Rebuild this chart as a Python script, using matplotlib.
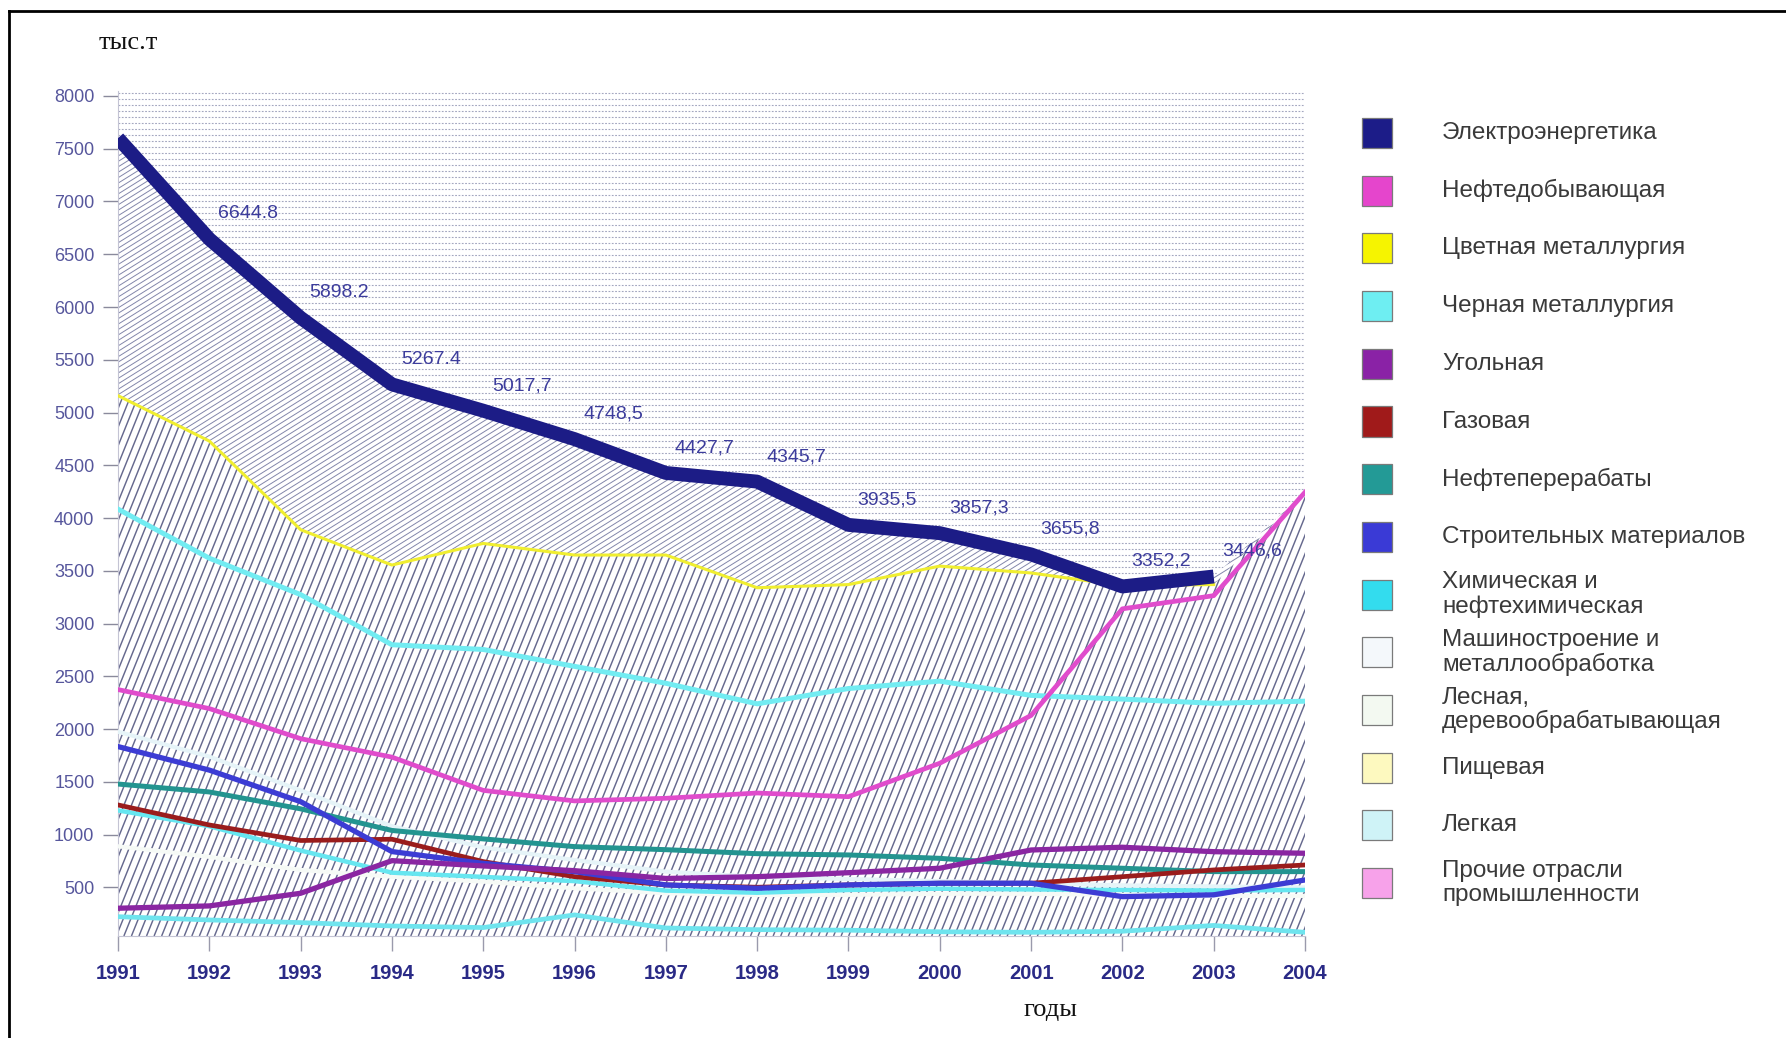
import numpy as np
import matplotlib
matplotlib.use("Agg")
import matplotlib.pyplot as plt
from matplotlib.collections import LineCollection
from matplotlib.patches import Polygon, Rectangle
from matplotlib.lines import Line2D

plt.rcParams["font.family"] = ["Liberation Sans", "DejaVu Sans"]

# ──────────────────────────────────────────────────────────────────────
# Data (тыс. т)
# ──────────────────────────────────────────────────────────────────────
YEARS = np.arange(1991, 2005)

ELECTRO = [7600, 6644.8, 5898.2, 5267.4, 5017.7, 4748.5, 4427.7,
           4345.7, 3935.5, 3857.3, 3655.8, 3352.2, 3446.6]          # 1991-2003
ELECTRO_LABELS = ["", "6644.8", "5898.2", "5267.4", "5017,7", "4748,5", "4427,7",
                  "4345,7", "3935,5", "3857,3", "3655,8", "3352,2", "3446,6"]
NONFERROUS = [5160, 4730, 3890, 3555, 3760, 3650, 3650,
              3340, 3370, 3545, 3480, 3360, 3370]                   # 1991-2003
OIL = [2375, 2195, 1910, 1735, 1420, 1320, 1345, 1395, 1360, 1677, 2130, 3140, 3265, 4245]
FERROUS = [4085, 3620, 3275, 2800, 2755, 2595, 2435, 2240, 2385, 2455, 2320, 2285, 2245, 2265]
REFINING = [1480, 1405, 1245, 1040, 960, 887, 858, 820, 808, 776, 713, 682, 650, 650]
BUILDING = [1835, 1612, 1313, 840, 728, 650, 524, 492, 524, 540, 540, 413, 430, 571]
GAS = [1282, 1092, 945, 957, 745, 602, 524, 502, 524, 540, 540, 602, 666, 713]
COAL = [303, 325, 445, 754, 704, 659, 585, 602, 640, 682, 855, 881, 839, 824]
CHEMICAL = [1230, 1080, 850, 640, 600, 560, 470, 450, 476, 488, 481, 476, 471, 476]
MACHINE = [1976, 1740, 1420, 1080, 880, 760, 650, 600, 580, 560, 540, 520, 510, 500]
FOREST = [890, 790, 666, 602, 555, 492, 445, 429, 430, 440, 440, 430, 420, 420]
LIGHT = [223, 192, 167, 135, 120, 240, 116, 100, 95, 80, 75, 85, 140, 75]

CATEGORIES = ["Электроэнергетика", "Нефтедобывающая", "Цветная металлургия",
              "Черная металлургия", "Угольная", "Газовая", "Нефтеперерабаты",
              "Строительных материалов", "Химическая и\nнефтехимическая",
              "Машиностроение и\nметаллообработка", "Лесная,\nдеревообрабатывающая",
              "Пищевая", "Легкая", "Прочие отрасли\nпромышленности"]
LEGEND_COLORS = ["#1c1c88", "#e545cc", "#f6f400", "#6eeef2", "#8a22a6", "#a01a1a",
                 "#239a96", "#3a3ad6", "#33dcee", "#f4f8fb", "#f3f9f1", "#fdf9bf",
                 "#cff3f7", "#f7a2ea"]

W_PX, H_PX = 1786, 1038


def hatch_region(ax, x, lower, upper, angle, step, color, lw, ls="-"):
    """Fill a band between two curves with custom-angle hatching."""
    verts = np.column_stack([np.r_[x, x[::-1]], np.r_[upper, lower[::-1]]])
    poly = Polygon(verts, closed=True, transform=ax.transData,
                   fc="white", ec="none", zorder=1)
    ax.add_patch(poly)
    bb = ax.get_window_extent()
    W, H = bb.width, bb.height
    if angle == 0:
        ys = np.arange(step / H / 2, 1, step / H)
        segs = [[(0, y), (1, y)] for y in ys]
    else:
        a = np.radians(angle)
        run = H / np.tan(a) / W
        dx = step / np.sin(a) / W
        xs = np.arange(-run - dx, 1 + dx, dx)
        segs = [[(x0, 0), (x0 + run, 1)] for x0 in xs]
    lc = LineCollection(segs, colors=color, linewidths=lw, linestyles=ls,
                        transform=ax.transAxes, zorder=2)
    lc.set_clip_path(poly)
    ax.add_collection(lc, autolim=False)


fig = plt.figure(figsize=(W_PX / 100, H_PX / 100), dpi=100)
ax = fig.add_axes([118 / W_PX, 1 - 936 / H_PX, (1305 - 118) / W_PX, (936 - 91) / H_PX])
ax.set_xlim(1991, 2004)
ax.set_ylim(40, 8047)

ymin, ymax = ax.get_ylim()
yrs_e = YEARS[:len(ELECTRO)]
top_band = np.append(ELECTRO, OIL[-1])          # upper edge of middle band
mid_band = np.append(NONFERROUS, OIL[-1])       # upper edge of lower band

hatch_region(ax, YEARS, top_band, np.full(len(YEARS), ymax), 0, 6.0,
             "#a4a7c0", 0.8, (0, (1.6, 1.4)))
hatch_region(ax, YEARS, mid_band, top_band, 32, 4.6, "#8286aa", 0.7)
hatch_region(ax, YEARS, np.full(len(YEARS), ymin), mid_band, 68, 7.0, "#66698e", 1.05)

# lines
ax.plot(YEARS, MACHINE, color="#e6f4f8", lw=3.0, zorder=4)
ax.plot(YEARS, FOREST, color="#f6faf6", lw=3.0, zorder=4)
ax.plot(YEARS, LIGHT, color="#6fe4ee", lw=3.4, zorder=4)
ax.plot(YEARS, CHEMICAL, color="#66e6f0", lw=3.2, zorder=4)
ax.plot(YEARS, FERROUS, color="#72ecf2", lw=3.6, zorder=4)
ax.plot(YEARS, REFINING, color="#239490", lw=3.6, zorder=5)
ax.plot(YEARS, GAS, color="#9a1c1c", lw=3.4, zorder=5)
ax.plot(YEARS, BUILDING, color="#3c3cd4", lw=3.8, zorder=6)
ax.plot(YEARS, COAL, color="#8a26a2", lw=3.8, zorder=6)
ax.plot(yrs_e, NONFERROUS, color="#f0ee30", lw=2.2, zorder=6)
ax.plot(yrs_e, ELECTRO, color="#1c1c86", lw=10, zorder=7,
        solid_joinstyle="round", solid_capstyle="butt")
ax.plot(YEARS, OIL, color="#e04ccc", lw=3.4, zorder=8)

for yr, val, lab in zip(yrs_e, ELECTRO, ELECTRO_LABELS):
    if lab:
        ax.annotate(lab, (yr, val), xytext=(28, 18), textcoords="offset points",
                    ha="center", va="center", fontsize=14, color="#3c3c9c", zorder=9)

# axes styling
ax.set_yticks(np.arange(500, 8001, 500))
ax.set_xticks(YEARS)
ax.tick_params(axis="y", length=11, width=1, color="#8a8a9c", pad=6,
               labelsize=13, labelcolor="#56569c")
ax.tick_params(axis="x", length=11, width=1, color="#9a9aac", pad=9,
               labelsize=14.5, labelcolor="#2a2a86")
for lab in ax.get_xticklabels():
    lab.set_fontweight("bold")
for side in ("top", "right"):
    ax.spines[side].set_visible(False)
for side in ("left", "bottom"):
    ax.spines[side].set_color("#c4c4d4")
    ax.spines[side].set_linewidth(0.8)

fig.text(128 / W_PX, 1 - 43 / H_PX, "тыс.т", family=["Liberation Serif", "DejaVu Serif"],
         fontsize=19, ha="center", va="center", color="#111111")
fig.text(1050 / W_PX, 1 - 1010 / H_PX, "годы", family=["Liberation Serif", "DejaVu Serif"],
         fontsize=19, ha="center", va="center", color="#111111")

# legend
sq = 30
for i, (name, col) in enumerate(zip(CATEGORIES, LEGEND_COLORS)):
    yc = 133 + i * 57.7
    fig.add_artist(Rectangle((1362 / W_PX, 1 - (yc + sq / 2) / H_PX), sq / W_PX, sq / H_PX,
                             transform=fig.transFigure, fc=col, ec="#7a7a7a", lw=0.9))
    fig.text(1442 / W_PX, 1 - yc / H_PX, name, ha="left", va="center",
             fontsize=17.5, color="#3a3a3a", linespacing=1.1)

# outer frame (top and left edges)
fig.add_artist(Line2D([9 / W_PX, 9 / W_PX], [0, 1 - 11 / H_PX],
                      transform=fig.transFigure, color="black", lw=2))
fig.add_artist(Line2D([9 / W_PX, 1], [1 - 11 / H_PX, 1 - 11 / H_PX],
                      transform=fig.transFigure, color="black", lw=2))

fig.savefig("out.png", dpi=100)
